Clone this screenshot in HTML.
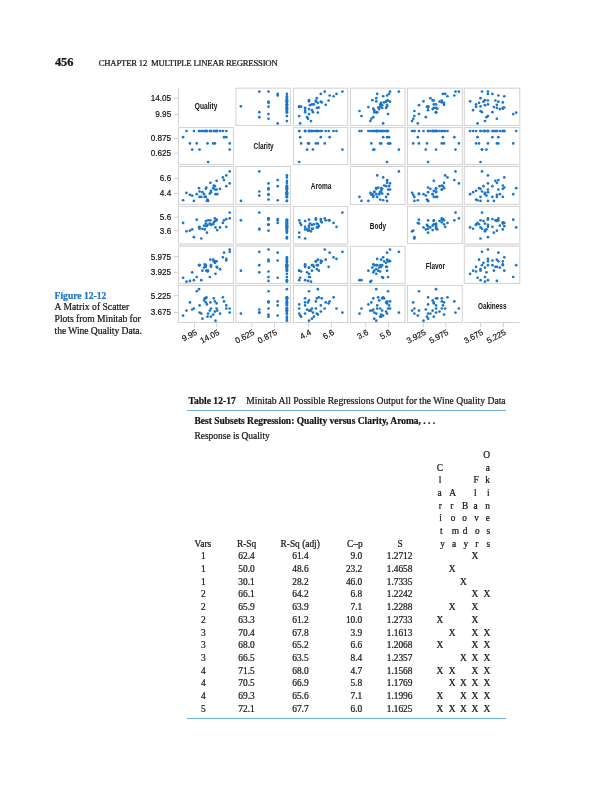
<!DOCTYPE html>
<html lang="en"><head><meta charset="utf-8"><title>Chapter 12 Multiple Linear Regression</title>
<style>
html,body,figure{margin:0;padding:0;background:#fff;}
body{width:609px;height:800px;position:relative;overflow:hidden;font-family:"Liberation Serif",serif;color:#151515;}
.plot{position:absolute;left:0;top:0;}
.t{position:absolute;white-space:pre;line-height:1;-webkit-text-stroke:0.22px currentColor;}
.tc{transform:translateX(-50%);}
.tr{transform:translateX(-100%);}
.rule{position:absolute;height:1px;background:#6fb0e6;}
</style></head><body>
<header>
<div class="t" style="left:54.90px;top:56.02px;font-size:12.4px;font-weight:bold;">456</div>
<div class="t" style="left:98.70px;top:58.91px;font-size:8.7px;letter-spacing:-0.208px;">CHAPTER 12  MULTIPLE LINEAR REGRESSION</div>
</header>
<figure>
<svg class="plot" width="609" height="400" viewBox="0 0 609 400">
<g fill="#fff" stroke="#d2d2d2" stroke-width="1">
<rect x="235.90" y="88.20" width="54.50" height="37.20"/>
<rect x="293.40" y="88.20" width="54.30" height="37.20"/>
<rect x="350.40" y="88.20" width="54.70" height="37.20"/>
<rect x="407.50" y="88.20" width="54.80" height="37.20"/>
<rect x="464.30" y="88.20" width="55.50" height="37.20"/>
<rect x="178.50" y="127.60" width="54.90" height="37.00"/>
<rect x="293.40" y="127.60" width="54.30" height="37.00"/>
<rect x="350.40" y="127.60" width="54.70" height="37.00"/>
<rect x="407.50" y="127.60" width="54.80" height="37.00"/>
<rect x="464.30" y="127.60" width="55.50" height="37.00"/>
<rect x="178.50" y="166.50" width="54.90" height="37.90"/>
<rect x="235.90" y="166.50" width="54.50" height="37.90"/>
<rect x="350.40" y="166.50" width="54.70" height="37.90"/>
<rect x="407.50" y="166.50" width="54.80" height="37.90"/>
<rect x="464.30" y="166.50" width="55.50" height="37.90"/>
<rect x="178.50" y="206.45" width="54.90" height="37.15"/>
<rect x="235.90" y="206.45" width="54.50" height="37.15"/>
<rect x="293.40" y="206.45" width="54.30" height="37.15"/>
<rect x="407.50" y="206.45" width="54.80" height="37.15"/>
<rect x="464.30" y="206.45" width="55.50" height="37.15"/>
<rect x="178.50" y="246.40" width="54.90" height="37.00"/>
<rect x="235.90" y="246.40" width="54.50" height="37.00"/>
<rect x="293.40" y="246.40" width="54.30" height="37.00"/>
<rect x="350.40" y="246.40" width="54.70" height="37.00"/>
<rect x="464.30" y="246.40" width="55.50" height="37.00"/>
<rect x="178.50" y="285.45" width="54.90" height="37.05"/>
<rect x="235.90" y="285.45" width="54.50" height="37.05"/>
<rect x="293.40" y="285.45" width="54.30" height="37.05"/>
<rect x="350.40" y="285.45" width="54.70" height="37.05"/>
<rect x="407.50" y="285.45" width="54.80" height="37.05"/>
</g>
<rect x="178.00" y="243.0" width="55.90" height="3.8" fill="#e5e5e5"/>
<rect x="235.40" y="243.0" width="55.50" height="3.8" fill="#e5e5e5"/>
<rect x="292.90" y="243.0" width="55.30" height="3.8" fill="#e5e5e5"/>
<rect x="463.80" y="243.0" width="56.50" height="3.8" fill="#e5e5e5"/>
<g stroke="#d2d2d2" stroke-width="1" fill="none">
<path d="M178.50 88.20V125.40"/>
<path d="M174.00 98.20H178.50"/>
<path d="M174.00 114.50H178.50"/>
<path d="M174.00 138.40H178.50"/>
<path d="M174.00 153.10H178.50"/>
<path d="M174.00 178.50H178.50"/>
<path d="M174.00 193.30H178.50"/>
<path d="M174.00 217.20H178.50"/>
<path d="M174.00 230.70H178.50"/>
<path d="M174.00 256.65H178.50"/>
<path d="M174.00 272.25H178.50"/>
<path d="M174.00 295.70H178.50"/>
<path d="M174.00 312.50H178.50"/>
<path d="M194.50 322.50V327.10"/>
<path d="M216.80 322.50V327.10"/>
<path d="M251.80 322.50V327.10"/>
<path d="M274.50 322.50V327.10"/>
<path d="M308.60 322.50V327.10"/>
<path d="M331.50 322.50V327.10"/>
<path d="M365.85 322.50V327.10"/>
<path d="M388.50 322.50V327.10"/>
<path d="M423.40 322.50V327.10"/>
<path d="M445.90 322.50V327.10"/>
<path d="M480.60 322.50V327.10"/>
<path d="M503.40 322.50V327.10"/>
<path d="M464.30 322.50H519.80"/>
</g>
<g fill="#1b75c9">
<circle cx="286.90" cy="116.03" r="1.35"/>
<circle cx="286.90" cy="105.17" r="1.35"/>
<circle cx="286.90" cy="107.89" r="1.35"/>
<circle cx="286.90" cy="110.99" r="1.35"/>
<circle cx="286.90" cy="102.46" r="1.35"/>
<circle cx="286.90" cy="104.40" r="1.35"/>
<circle cx="286.90" cy="104.40" r="1.35"/>
<circle cx="286.90" cy="107.50" r="1.35"/>
<circle cx="286.90" cy="101.30" r="1.35"/>
<circle cx="286.90" cy="100.13" r="1.35"/>
<circle cx="286.90" cy="98.19" r="1.35"/>
<circle cx="240.90" cy="106.34" r="1.35"/>
<circle cx="268.50" cy="91.60" r="1.35"/>
<circle cx="259.30" cy="91.60" r="1.35"/>
<circle cx="286.90" cy="93.93" r="1.35"/>
<circle cx="277.70" cy="93.93" r="1.35"/>
<circle cx="286.90" cy="100.52" r="1.35"/>
<circle cx="286.90" cy="100.52" r="1.35"/>
<circle cx="286.90" cy="110.21" r="1.35"/>
<circle cx="277.70" cy="123.40" r="1.35"/>
<circle cx="277.70" cy="95.48" r="1.35"/>
<circle cx="286.90" cy="101.68" r="1.35"/>
<circle cx="259.30" cy="112.15" r="1.35"/>
<circle cx="259.30" cy="117.20" r="1.35"/>
<circle cx="286.90" cy="104.79" r="1.35"/>
<circle cx="286.90" cy="109.05" r="1.35"/>
<circle cx="286.90" cy="108.66" r="1.35"/>
<circle cx="286.90" cy="107.89" r="1.35"/>
<circle cx="286.90" cy="112.15" r="1.35"/>
<circle cx="286.90" cy="121.07" r="1.35"/>
<circle cx="286.90" cy="112.54" r="1.35"/>
<circle cx="268.50" cy="118.75" r="1.35"/>
<circle cx="286.90" cy="107.11" r="1.35"/>
<circle cx="286.90" cy="96.25" r="1.35"/>
<circle cx="268.50" cy="101.68" r="1.35"/>
<circle cx="268.50" cy="106.72" r="1.35"/>
<circle cx="268.50" cy="114.09" r="1.35"/>
<circle cx="268.50" cy="102.85" r="1.35"/>
<circle cx="299.20" cy="116.03" r="1.35"/>
<circle cx="310.00" cy="105.17" r="1.35"/>
<circle cx="305.09" cy="107.89" r="1.35"/>
<circle cx="305.09" cy="110.99" r="1.35"/>
<circle cx="321.78" cy="102.46" r="1.35"/>
<circle cx="311.96" cy="104.40" r="1.35"/>
<circle cx="313.93" cy="104.40" r="1.35"/>
<circle cx="318.84" cy="107.50" r="1.35"/>
<circle cx="309.02" cy="101.30" r="1.35"/>
<circle cx="309.02" cy="100.13" r="1.35"/>
<circle cx="316.87" cy="98.19" r="1.35"/>
<circle cx="299.20" cy="106.34" r="1.35"/>
<circle cx="324.73" cy="91.60" r="1.35"/>
<circle cx="342.40" cy="91.60" r="1.35"/>
<circle cx="336.51" cy="93.93" r="1.35"/>
<circle cx="320.80" cy="93.93" r="1.35"/>
<circle cx="328.65" cy="100.52" r="1.35"/>
<circle cx="315.89" cy="100.52" r="1.35"/>
<circle cx="311.96" cy="110.21" r="1.35"/>
<circle cx="300.18" cy="123.40" r="1.35"/>
<circle cx="329.64" cy="95.48" r="1.35"/>
<circle cx="320.80" cy="101.68" r="1.35"/>
<circle cx="312.95" cy="112.15" r="1.35"/>
<circle cx="307.05" cy="117.20" r="1.35"/>
<circle cx="325.71" cy="104.79" r="1.35"/>
<circle cx="309.02" cy="109.05" r="1.35"/>
<circle cx="305.09" cy="108.66" r="1.35"/>
<circle cx="316.87" cy="107.89" r="1.35"/>
<circle cx="305.09" cy="112.15" r="1.35"/>
<circle cx="310.98" cy="121.07" r="1.35"/>
<circle cx="317.85" cy="112.54" r="1.35"/>
<circle cx="308.04" cy="118.75" r="1.35"/>
<circle cx="299.20" cy="107.11" r="1.35"/>
<circle cx="333.56" cy="96.25" r="1.35"/>
<circle cx="315.89" cy="101.68" r="1.35"/>
<circle cx="301.16" cy="106.72" r="1.35"/>
<circle cx="309.02" cy="114.09" r="1.35"/>
<circle cx="317.85" cy="102.85" r="1.35"/>
<circle cx="361.47" cy="116.03" r="1.35"/>
<circle cx="382.15" cy="105.17" r="1.35"/>
<circle cx="386.09" cy="107.89" r="1.35"/>
<circle cx="359.50" cy="110.99" r="1.35"/>
<circle cx="384.12" cy="102.46" r="1.35"/>
<circle cx="380.19" cy="104.40" r="1.35"/>
<circle cx="381.17" cy="104.40" r="1.35"/>
<circle cx="378.21" cy="107.50" r="1.35"/>
<circle cx="376.25" cy="101.30" r="1.35"/>
<circle cx="372.31" cy="100.13" r="1.35"/>
<circle cx="376.25" cy="98.19" r="1.35"/>
<circle cx="387.08" cy="106.34" r="1.35"/>
<circle cx="390.03" cy="91.60" r="1.35"/>
<circle cx="398.90" cy="91.60" r="1.35"/>
<circle cx="377.23" cy="93.93" r="1.35"/>
<circle cx="389.05" cy="93.93" r="1.35"/>
<circle cx="387.08" cy="100.52" r="1.35"/>
<circle cx="388.06" cy="100.52" r="1.35"/>
<circle cx="374.27" cy="110.21" r="1.35"/>
<circle cx="383.14" cy="123.40" r="1.35"/>
<circle cx="387.08" cy="95.48" r="1.35"/>
<circle cx="386.09" cy="101.68" r="1.35"/>
<circle cx="374.27" cy="112.15" r="1.35"/>
<circle cx="373.29" cy="117.20" r="1.35"/>
<circle cx="387.08" cy="104.79" r="1.35"/>
<circle cx="379.20" cy="109.05" r="1.35"/>
<circle cx="373.29" cy="108.66" r="1.35"/>
<circle cx="382.15" cy="107.89" r="1.35"/>
<circle cx="377.23" cy="112.15" r="1.35"/>
<circle cx="370.33" cy="121.07" r="1.35"/>
<circle cx="376.25" cy="112.54" r="1.35"/>
<circle cx="371.32" cy="118.75" r="1.35"/>
<circle cx="368.37" cy="107.11" r="1.35"/>
<circle cx="383.14" cy="96.25" r="1.35"/>
<circle cx="390.03" cy="101.68" r="1.35"/>
<circle cx="380.19" cy="106.72" r="1.35"/>
<circle cx="388.06" cy="114.09" r="1.35"/>
<circle cx="381.17" cy="102.85" r="1.35"/>
<circle cx="414.38" cy="116.03" r="1.35"/>
<circle cx="418.95" cy="105.17" r="1.35"/>
<circle cx="433.79" cy="107.89" r="1.35"/>
<circle cx="414.38" cy="110.99" r="1.35"/>
<circle cx="441.78" cy="102.46" r="1.35"/>
<circle cx="436.07" cy="104.40" r="1.35"/>
<circle cx="433.79" cy="104.40" r="1.35"/>
<circle cx="428.08" cy="107.50" r="1.35"/>
<circle cx="423.51" cy="101.30" r="1.35"/>
<circle cx="432.65" cy="100.13" r="1.35"/>
<circle cx="430.36" cy="98.19" r="1.35"/>
<circle cx="428.08" cy="106.34" r="1.35"/>
<circle cx="458.90" cy="91.60" r="1.35"/>
<circle cx="455.48" cy="91.60" r="1.35"/>
<circle cx="445.20" cy="93.93" r="1.35"/>
<circle cx="442.92" cy="93.93" r="1.35"/>
<circle cx="433.79" cy="100.52" r="1.35"/>
<circle cx="441.78" cy="100.52" r="1.35"/>
<circle cx="428.08" cy="110.21" r="1.35"/>
<circle cx="417.81" cy="123.40" r="1.35"/>
<circle cx="454.33" cy="95.48" r="1.35"/>
<circle cx="439.50" cy="101.68" r="1.35"/>
<circle cx="436.07" cy="112.15" r="1.35"/>
<circle cx="425.80" cy="117.20" r="1.35"/>
<circle cx="444.06" cy="104.79" r="1.35"/>
<circle cx="432.65" cy="109.05" r="1.35"/>
<circle cx="437.21" cy="108.66" r="1.35"/>
<circle cx="436.07" cy="107.89" r="1.35"/>
<circle cx="436.07" cy="112.15" r="1.35"/>
<circle cx="412.10" cy="121.07" r="1.35"/>
<circle cx="436.07" cy="112.54" r="1.35"/>
<circle cx="413.24" cy="118.75" r="1.35"/>
<circle cx="428.08" cy="107.11" r="1.35"/>
<circle cx="447.49" cy="96.25" r="1.35"/>
<circle cx="441.78" cy="101.68" r="1.35"/>
<circle cx="426.94" cy="106.72" r="1.35"/>
<circle cx="418.95" cy="114.09" r="1.35"/>
<circle cx="444.06" cy="102.85" r="1.35"/>
<circle cx="487.95" cy="116.03" r="1.35"/>
<circle cx="484.97" cy="105.17" r="1.35"/>
<circle cx="496.87" cy="107.89" r="1.35"/>
<circle cx="480.51" cy="110.99" r="1.35"/>
<circle cx="502.82" cy="102.46" r="1.35"/>
<circle cx="487.95" cy="104.40" r="1.35"/>
<circle cx="476.05" cy="104.40" r="1.35"/>
<circle cx="504.30" cy="107.50" r="1.35"/>
<circle cx="470.10" cy="101.30" r="1.35"/>
<circle cx="484.97" cy="100.13" r="1.35"/>
<circle cx="480.51" cy="98.19" r="1.35"/>
<circle cx="480.51" cy="106.34" r="1.35"/>
<circle cx="487.95" cy="91.60" r="1.35"/>
<circle cx="482.00" cy="91.60" r="1.35"/>
<circle cx="487.95" cy="93.93" r="1.35"/>
<circle cx="492.41" cy="93.93" r="1.35"/>
<circle cx="495.38" cy="100.52" r="1.35"/>
<circle cx="487.95" cy="100.52" r="1.35"/>
<circle cx="473.07" cy="110.21" r="1.35"/>
<circle cx="477.54" cy="123.40" r="1.35"/>
<circle cx="498.35" cy="95.48" r="1.35"/>
<circle cx="483.48" cy="101.68" r="1.35"/>
<circle cx="482.00" cy="112.15" r="1.35"/>
<circle cx="486.46" cy="117.20" r="1.35"/>
<circle cx="496.87" cy="104.79" r="1.35"/>
<circle cx="499.84" cy="109.05" r="1.35"/>
<circle cx="502.82" cy="108.66" r="1.35"/>
<circle cx="502.82" cy="107.89" r="1.35"/>
<circle cx="492.41" cy="112.15" r="1.35"/>
<circle cx="484.97" cy="121.07" r="1.35"/>
<circle cx="516.20" cy="112.54" r="1.35"/>
<circle cx="496.87" cy="118.75" r="1.35"/>
<circle cx="493.89" cy="107.11" r="1.35"/>
<circle cx="504.30" cy="96.25" r="1.35"/>
<circle cx="498.35" cy="101.68" r="1.35"/>
<circle cx="476.05" cy="106.72" r="1.35"/>
<circle cx="513.23" cy="114.09" r="1.35"/>
<circle cx="479.02" cy="102.85" r="1.35"/>
<circle cx="193.90" cy="131.00" r="1.35"/>
<circle cx="209.81" cy="131.00" r="1.35"/>
<circle cx="205.83" cy="131.00" r="1.35"/>
<circle cx="201.29" cy="131.00" r="1.35"/>
<circle cx="213.79" cy="131.00" r="1.35"/>
<circle cx="210.95" cy="131.00" r="1.35"/>
<circle cx="210.95" cy="131.00" r="1.35"/>
<circle cx="206.40" cy="131.00" r="1.35"/>
<circle cx="215.49" cy="131.00" r="1.35"/>
<circle cx="217.20" cy="131.00" r="1.35"/>
<circle cx="220.04" cy="131.00" r="1.35"/>
<circle cx="208.10" cy="162.00" r="1.35"/>
<circle cx="229.70" cy="143.40" r="1.35"/>
<circle cx="229.70" cy="149.60" r="1.35"/>
<circle cx="226.29" cy="131.00" r="1.35"/>
<circle cx="226.29" cy="137.20" r="1.35"/>
<circle cx="216.63" cy="131.00" r="1.35"/>
<circle cx="216.63" cy="131.00" r="1.35"/>
<circle cx="202.42" cy="131.00" r="1.35"/>
<circle cx="183.10" cy="137.20" r="1.35"/>
<circle cx="224.02" cy="137.20" r="1.35"/>
<circle cx="214.92" cy="131.00" r="1.35"/>
<circle cx="199.58" cy="149.60" r="1.35"/>
<circle cx="192.19" cy="149.60" r="1.35"/>
<circle cx="210.38" cy="131.00" r="1.35"/>
<circle cx="204.13" cy="131.00" r="1.35"/>
<circle cx="204.70" cy="131.00" r="1.35"/>
<circle cx="205.83" cy="131.00" r="1.35"/>
<circle cx="199.58" cy="131.00" r="1.35"/>
<circle cx="186.51" cy="131.00" r="1.35"/>
<circle cx="199.01" cy="131.00" r="1.35"/>
<circle cx="189.92" cy="143.40" r="1.35"/>
<circle cx="206.97" cy="131.00" r="1.35"/>
<circle cx="222.88" cy="131.00" r="1.35"/>
<circle cx="214.92" cy="143.40" r="1.35"/>
<circle cx="207.54" cy="143.40" r="1.35"/>
<circle cx="196.74" cy="143.40" r="1.35"/>
<circle cx="213.22" cy="143.40" r="1.35"/>
<circle cx="299.20" cy="131.00" r="1.35"/>
<circle cx="310.00" cy="131.00" r="1.35"/>
<circle cx="305.09" cy="131.00" r="1.35"/>
<circle cx="305.09" cy="131.00" r="1.35"/>
<circle cx="321.78" cy="131.00" r="1.35"/>
<circle cx="311.96" cy="131.00" r="1.35"/>
<circle cx="313.93" cy="131.00" r="1.35"/>
<circle cx="318.84" cy="131.00" r="1.35"/>
<circle cx="309.02" cy="131.00" r="1.35"/>
<circle cx="309.02" cy="131.00" r="1.35"/>
<circle cx="316.87" cy="131.00" r="1.35"/>
<circle cx="299.20" cy="162.00" r="1.35"/>
<circle cx="324.73" cy="143.40" r="1.35"/>
<circle cx="342.40" cy="149.60" r="1.35"/>
<circle cx="336.51" cy="131.00" r="1.35"/>
<circle cx="320.80" cy="137.20" r="1.35"/>
<circle cx="328.65" cy="131.00" r="1.35"/>
<circle cx="315.89" cy="131.00" r="1.35"/>
<circle cx="311.96" cy="131.00" r="1.35"/>
<circle cx="300.18" cy="137.20" r="1.35"/>
<circle cx="329.64" cy="137.20" r="1.35"/>
<circle cx="320.80" cy="131.00" r="1.35"/>
<circle cx="312.95" cy="149.60" r="1.35"/>
<circle cx="307.05" cy="149.60" r="1.35"/>
<circle cx="325.71" cy="131.00" r="1.35"/>
<circle cx="309.02" cy="131.00" r="1.35"/>
<circle cx="305.09" cy="131.00" r="1.35"/>
<circle cx="316.87" cy="131.00" r="1.35"/>
<circle cx="305.09" cy="131.00" r="1.35"/>
<circle cx="310.98" cy="131.00" r="1.35"/>
<circle cx="317.85" cy="131.00" r="1.35"/>
<circle cx="308.04" cy="143.40" r="1.35"/>
<circle cx="299.20" cy="131.00" r="1.35"/>
<circle cx="333.56" cy="131.00" r="1.35"/>
<circle cx="315.89" cy="143.40" r="1.35"/>
<circle cx="301.16" cy="143.40" r="1.35"/>
<circle cx="309.02" cy="143.40" r="1.35"/>
<circle cx="317.85" cy="143.40" r="1.35"/>
<circle cx="361.47" cy="131.00" r="1.35"/>
<circle cx="382.15" cy="131.00" r="1.35"/>
<circle cx="386.09" cy="131.00" r="1.35"/>
<circle cx="359.50" cy="131.00" r="1.35"/>
<circle cx="384.12" cy="131.00" r="1.35"/>
<circle cx="380.19" cy="131.00" r="1.35"/>
<circle cx="381.17" cy="131.00" r="1.35"/>
<circle cx="378.21" cy="131.00" r="1.35"/>
<circle cx="376.25" cy="131.00" r="1.35"/>
<circle cx="372.31" cy="131.00" r="1.35"/>
<circle cx="376.25" cy="131.00" r="1.35"/>
<circle cx="387.08" cy="162.00" r="1.35"/>
<circle cx="390.03" cy="143.40" r="1.35"/>
<circle cx="398.90" cy="149.60" r="1.35"/>
<circle cx="377.23" cy="131.00" r="1.35"/>
<circle cx="389.05" cy="137.20" r="1.35"/>
<circle cx="387.08" cy="131.00" r="1.35"/>
<circle cx="388.06" cy="131.00" r="1.35"/>
<circle cx="374.27" cy="131.00" r="1.35"/>
<circle cx="383.14" cy="137.20" r="1.35"/>
<circle cx="387.08" cy="137.20" r="1.35"/>
<circle cx="386.09" cy="131.00" r="1.35"/>
<circle cx="374.27" cy="149.60" r="1.35"/>
<circle cx="373.29" cy="149.60" r="1.35"/>
<circle cx="387.08" cy="131.00" r="1.35"/>
<circle cx="379.20" cy="131.00" r="1.35"/>
<circle cx="373.29" cy="131.00" r="1.35"/>
<circle cx="382.15" cy="131.00" r="1.35"/>
<circle cx="377.23" cy="131.00" r="1.35"/>
<circle cx="370.33" cy="131.00" r="1.35"/>
<circle cx="376.25" cy="131.00" r="1.35"/>
<circle cx="371.32" cy="143.40" r="1.35"/>
<circle cx="368.37" cy="131.00" r="1.35"/>
<circle cx="383.14" cy="131.00" r="1.35"/>
<circle cx="390.03" cy="143.40" r="1.35"/>
<circle cx="380.19" cy="143.40" r="1.35"/>
<circle cx="388.06" cy="143.40" r="1.35"/>
<circle cx="381.17" cy="143.40" r="1.35"/>
<circle cx="414.38" cy="131.00" r="1.35"/>
<circle cx="418.95" cy="131.00" r="1.35"/>
<circle cx="433.79" cy="131.00" r="1.35"/>
<circle cx="414.38" cy="131.00" r="1.35"/>
<circle cx="441.78" cy="131.00" r="1.35"/>
<circle cx="436.07" cy="131.00" r="1.35"/>
<circle cx="433.79" cy="131.00" r="1.35"/>
<circle cx="428.08" cy="131.00" r="1.35"/>
<circle cx="423.51" cy="131.00" r="1.35"/>
<circle cx="432.65" cy="131.00" r="1.35"/>
<circle cx="430.36" cy="131.00" r="1.35"/>
<circle cx="428.08" cy="162.00" r="1.35"/>
<circle cx="458.90" cy="143.40" r="1.35"/>
<circle cx="455.48" cy="149.60" r="1.35"/>
<circle cx="445.20" cy="131.00" r="1.35"/>
<circle cx="442.92" cy="137.20" r="1.35"/>
<circle cx="433.79" cy="131.00" r="1.35"/>
<circle cx="441.78" cy="131.00" r="1.35"/>
<circle cx="428.08" cy="131.00" r="1.35"/>
<circle cx="417.81" cy="137.20" r="1.35"/>
<circle cx="454.33" cy="137.20" r="1.35"/>
<circle cx="439.50" cy="131.00" r="1.35"/>
<circle cx="436.07" cy="149.60" r="1.35"/>
<circle cx="425.80" cy="149.60" r="1.35"/>
<circle cx="444.06" cy="131.00" r="1.35"/>
<circle cx="432.65" cy="131.00" r="1.35"/>
<circle cx="437.21" cy="131.00" r="1.35"/>
<circle cx="436.07" cy="131.00" r="1.35"/>
<circle cx="436.07" cy="131.00" r="1.35"/>
<circle cx="412.10" cy="131.00" r="1.35"/>
<circle cx="436.07" cy="131.00" r="1.35"/>
<circle cx="413.24" cy="143.40" r="1.35"/>
<circle cx="428.08" cy="131.00" r="1.35"/>
<circle cx="447.49" cy="131.00" r="1.35"/>
<circle cx="441.78" cy="143.40" r="1.35"/>
<circle cx="426.94" cy="143.40" r="1.35"/>
<circle cx="418.95" cy="143.40" r="1.35"/>
<circle cx="444.06" cy="143.40" r="1.35"/>
<circle cx="487.95" cy="131.00" r="1.35"/>
<circle cx="484.97" cy="131.00" r="1.35"/>
<circle cx="496.87" cy="131.00" r="1.35"/>
<circle cx="480.51" cy="131.00" r="1.35"/>
<circle cx="502.82" cy="131.00" r="1.35"/>
<circle cx="487.95" cy="131.00" r="1.35"/>
<circle cx="476.05" cy="131.00" r="1.35"/>
<circle cx="504.30" cy="131.00" r="1.35"/>
<circle cx="470.10" cy="131.00" r="1.35"/>
<circle cx="484.97" cy="131.00" r="1.35"/>
<circle cx="480.51" cy="131.00" r="1.35"/>
<circle cx="480.51" cy="162.00" r="1.35"/>
<circle cx="487.95" cy="143.40" r="1.35"/>
<circle cx="482.00" cy="149.60" r="1.35"/>
<circle cx="487.95" cy="131.00" r="1.35"/>
<circle cx="492.41" cy="137.20" r="1.35"/>
<circle cx="495.38" cy="131.00" r="1.35"/>
<circle cx="487.95" cy="131.00" r="1.35"/>
<circle cx="473.07" cy="131.00" r="1.35"/>
<circle cx="477.54" cy="137.20" r="1.35"/>
<circle cx="498.35" cy="137.20" r="1.35"/>
<circle cx="483.48" cy="131.00" r="1.35"/>
<circle cx="482.00" cy="149.60" r="1.35"/>
<circle cx="486.46" cy="149.60" r="1.35"/>
<circle cx="496.87" cy="131.00" r="1.35"/>
<circle cx="499.84" cy="131.00" r="1.35"/>
<circle cx="502.82" cy="131.00" r="1.35"/>
<circle cx="502.82" cy="131.00" r="1.35"/>
<circle cx="492.41" cy="131.00" r="1.35"/>
<circle cx="484.97" cy="131.00" r="1.35"/>
<circle cx="516.20" cy="131.00" r="1.35"/>
<circle cx="496.87" cy="143.40" r="1.35"/>
<circle cx="493.89" cy="131.00" r="1.35"/>
<circle cx="504.30" cy="131.00" r="1.35"/>
<circle cx="498.35" cy="143.40" r="1.35"/>
<circle cx="476.05" cy="143.40" r="1.35"/>
<circle cx="513.23" cy="143.40" r="1.35"/>
<circle cx="479.02" cy="143.40" r="1.35"/>
<circle cx="193.90" cy="200.90" r="1.35"/>
<circle cx="209.81" cy="193.53" r="1.35"/>
<circle cx="205.83" cy="196.88" r="1.35"/>
<circle cx="201.29" cy="196.88" r="1.35"/>
<circle cx="213.79" cy="185.48" r="1.35"/>
<circle cx="210.95" cy="192.18" r="1.35"/>
<circle cx="210.95" cy="190.84" r="1.35"/>
<circle cx="206.40" cy="187.49" r="1.35"/>
<circle cx="215.49" cy="194.20" r="1.35"/>
<circle cx="217.20" cy="194.20" r="1.35"/>
<circle cx="220.04" cy="188.83" r="1.35"/>
<circle cx="208.10" cy="200.90" r="1.35"/>
<circle cx="229.70" cy="183.47" r="1.35"/>
<circle cx="229.70" cy="171.40" r="1.35"/>
<circle cx="226.29" cy="175.42" r="1.35"/>
<circle cx="226.29" cy="186.15" r="1.35"/>
<circle cx="216.63" cy="180.79" r="1.35"/>
<circle cx="216.63" cy="189.50" r="1.35"/>
<circle cx="202.42" cy="192.18" r="1.35"/>
<circle cx="183.10" cy="200.23" r="1.35"/>
<circle cx="224.02" cy="180.12" r="1.35"/>
<circle cx="214.92" cy="186.15" r="1.35"/>
<circle cx="199.58" cy="191.51" r="1.35"/>
<circle cx="192.19" cy="195.54" r="1.35"/>
<circle cx="210.38" cy="182.80" r="1.35"/>
<circle cx="204.13" cy="194.20" r="1.35"/>
<circle cx="204.70" cy="196.88" r="1.35"/>
<circle cx="205.83" cy="188.83" r="1.35"/>
<circle cx="199.58" cy="196.88" r="1.35"/>
<circle cx="186.51" cy="192.85" r="1.35"/>
<circle cx="199.01" cy="188.16" r="1.35"/>
<circle cx="189.92" cy="194.87" r="1.35"/>
<circle cx="206.97" cy="200.90" r="1.35"/>
<circle cx="222.88" cy="177.43" r="1.35"/>
<circle cx="214.92" cy="189.50" r="1.35"/>
<circle cx="207.54" cy="199.56" r="1.35"/>
<circle cx="196.74" cy="194.20" r="1.35"/>
<circle cx="213.22" cy="188.16" r="1.35"/>
<circle cx="286.90" cy="200.90" r="1.35"/>
<circle cx="286.90" cy="193.53" r="1.35"/>
<circle cx="286.90" cy="196.88" r="1.35"/>
<circle cx="286.90" cy="196.88" r="1.35"/>
<circle cx="286.90" cy="185.48" r="1.35"/>
<circle cx="286.90" cy="192.18" r="1.35"/>
<circle cx="286.90" cy="190.84" r="1.35"/>
<circle cx="286.90" cy="187.49" r="1.35"/>
<circle cx="286.90" cy="194.20" r="1.35"/>
<circle cx="286.90" cy="194.20" r="1.35"/>
<circle cx="286.90" cy="188.83" r="1.35"/>
<circle cx="240.90" cy="200.90" r="1.35"/>
<circle cx="268.50" cy="183.47" r="1.35"/>
<circle cx="259.30" cy="171.40" r="1.35"/>
<circle cx="286.90" cy="175.42" r="1.35"/>
<circle cx="277.70" cy="186.15" r="1.35"/>
<circle cx="286.90" cy="180.79" r="1.35"/>
<circle cx="286.90" cy="189.50" r="1.35"/>
<circle cx="286.90" cy="192.18" r="1.35"/>
<circle cx="277.70" cy="200.23" r="1.35"/>
<circle cx="277.70" cy="180.12" r="1.35"/>
<circle cx="286.90" cy="186.15" r="1.35"/>
<circle cx="259.30" cy="191.51" r="1.35"/>
<circle cx="259.30" cy="195.54" r="1.35"/>
<circle cx="286.90" cy="182.80" r="1.35"/>
<circle cx="286.90" cy="194.20" r="1.35"/>
<circle cx="286.90" cy="196.88" r="1.35"/>
<circle cx="286.90" cy="188.83" r="1.35"/>
<circle cx="286.90" cy="196.88" r="1.35"/>
<circle cx="286.90" cy="192.85" r="1.35"/>
<circle cx="286.90" cy="188.16" r="1.35"/>
<circle cx="268.50" cy="194.87" r="1.35"/>
<circle cx="286.90" cy="200.90" r="1.35"/>
<circle cx="286.90" cy="177.43" r="1.35"/>
<circle cx="268.50" cy="189.50" r="1.35"/>
<circle cx="268.50" cy="199.56" r="1.35"/>
<circle cx="268.50" cy="194.20" r="1.35"/>
<circle cx="268.50" cy="188.16" r="1.35"/>
<circle cx="361.47" cy="200.90" r="1.35"/>
<circle cx="382.15" cy="193.53" r="1.35"/>
<circle cx="386.09" cy="196.88" r="1.35"/>
<circle cx="359.50" cy="196.88" r="1.35"/>
<circle cx="384.12" cy="185.48" r="1.35"/>
<circle cx="380.19" cy="192.18" r="1.35"/>
<circle cx="381.17" cy="190.84" r="1.35"/>
<circle cx="378.21" cy="187.49" r="1.35"/>
<circle cx="376.25" cy="194.20" r="1.35"/>
<circle cx="372.31" cy="194.20" r="1.35"/>
<circle cx="376.25" cy="188.83" r="1.35"/>
<circle cx="387.08" cy="200.90" r="1.35"/>
<circle cx="390.03" cy="183.47" r="1.35"/>
<circle cx="398.90" cy="171.40" r="1.35"/>
<circle cx="377.23" cy="175.42" r="1.35"/>
<circle cx="389.05" cy="186.15" r="1.35"/>
<circle cx="387.08" cy="180.79" r="1.35"/>
<circle cx="388.06" cy="189.50" r="1.35"/>
<circle cx="374.27" cy="192.18" r="1.35"/>
<circle cx="383.14" cy="200.23" r="1.35"/>
<circle cx="387.08" cy="180.12" r="1.35"/>
<circle cx="386.09" cy="186.15" r="1.35"/>
<circle cx="374.27" cy="191.51" r="1.35"/>
<circle cx="373.29" cy="195.54" r="1.35"/>
<circle cx="387.08" cy="182.80" r="1.35"/>
<circle cx="379.20" cy="194.20" r="1.35"/>
<circle cx="373.29" cy="196.88" r="1.35"/>
<circle cx="382.15" cy="188.83" r="1.35"/>
<circle cx="377.23" cy="196.88" r="1.35"/>
<circle cx="370.33" cy="192.85" r="1.35"/>
<circle cx="376.25" cy="188.16" r="1.35"/>
<circle cx="371.32" cy="194.87" r="1.35"/>
<circle cx="368.37" cy="200.90" r="1.35"/>
<circle cx="383.14" cy="177.43" r="1.35"/>
<circle cx="390.03" cy="189.50" r="1.35"/>
<circle cx="380.19" cy="199.56" r="1.35"/>
<circle cx="388.06" cy="194.20" r="1.35"/>
<circle cx="381.17" cy="188.16" r="1.35"/>
<circle cx="414.38" cy="200.90" r="1.35"/>
<circle cx="418.95" cy="193.53" r="1.35"/>
<circle cx="433.79" cy="196.88" r="1.35"/>
<circle cx="414.38" cy="196.88" r="1.35"/>
<circle cx="441.78" cy="185.48" r="1.35"/>
<circle cx="436.07" cy="192.18" r="1.35"/>
<circle cx="433.79" cy="190.84" r="1.35"/>
<circle cx="428.08" cy="187.49" r="1.35"/>
<circle cx="423.51" cy="194.20" r="1.35"/>
<circle cx="432.65" cy="194.20" r="1.35"/>
<circle cx="430.36" cy="188.83" r="1.35"/>
<circle cx="428.08" cy="200.90" r="1.35"/>
<circle cx="458.90" cy="183.47" r="1.35"/>
<circle cx="455.48" cy="171.40" r="1.35"/>
<circle cx="445.20" cy="175.42" r="1.35"/>
<circle cx="442.92" cy="186.15" r="1.35"/>
<circle cx="433.79" cy="180.79" r="1.35"/>
<circle cx="441.78" cy="189.50" r="1.35"/>
<circle cx="428.08" cy="192.18" r="1.35"/>
<circle cx="417.81" cy="200.23" r="1.35"/>
<circle cx="454.33" cy="180.12" r="1.35"/>
<circle cx="439.50" cy="186.15" r="1.35"/>
<circle cx="436.07" cy="191.51" r="1.35"/>
<circle cx="425.80" cy="195.54" r="1.35"/>
<circle cx="444.06" cy="182.80" r="1.35"/>
<circle cx="432.65" cy="194.20" r="1.35"/>
<circle cx="437.21" cy="196.88" r="1.35"/>
<circle cx="436.07" cy="188.83" r="1.35"/>
<circle cx="436.07" cy="196.88" r="1.35"/>
<circle cx="412.10" cy="192.85" r="1.35"/>
<circle cx="436.07" cy="188.16" r="1.35"/>
<circle cx="413.24" cy="194.87" r="1.35"/>
<circle cx="428.08" cy="200.90" r="1.35"/>
<circle cx="447.49" cy="177.43" r="1.35"/>
<circle cx="441.78" cy="189.50" r="1.35"/>
<circle cx="426.94" cy="199.56" r="1.35"/>
<circle cx="418.95" cy="194.20" r="1.35"/>
<circle cx="444.06" cy="188.16" r="1.35"/>
<circle cx="487.95" cy="200.90" r="1.35"/>
<circle cx="484.97" cy="193.53" r="1.35"/>
<circle cx="496.87" cy="196.88" r="1.35"/>
<circle cx="480.51" cy="196.88" r="1.35"/>
<circle cx="502.82" cy="185.48" r="1.35"/>
<circle cx="487.95" cy="192.18" r="1.35"/>
<circle cx="476.05" cy="190.84" r="1.35"/>
<circle cx="504.30" cy="187.49" r="1.35"/>
<circle cx="470.10" cy="194.20" r="1.35"/>
<circle cx="484.97" cy="194.20" r="1.35"/>
<circle cx="480.51" cy="188.83" r="1.35"/>
<circle cx="480.51" cy="200.90" r="1.35"/>
<circle cx="487.95" cy="183.47" r="1.35"/>
<circle cx="482.00" cy="171.40" r="1.35"/>
<circle cx="487.95" cy="175.42" r="1.35"/>
<circle cx="492.41" cy="186.15" r="1.35"/>
<circle cx="495.38" cy="180.79" r="1.35"/>
<circle cx="487.95" cy="189.50" r="1.35"/>
<circle cx="473.07" cy="192.18" r="1.35"/>
<circle cx="477.54" cy="200.23" r="1.35"/>
<circle cx="498.35" cy="180.12" r="1.35"/>
<circle cx="483.48" cy="186.15" r="1.35"/>
<circle cx="482.00" cy="191.51" r="1.35"/>
<circle cx="486.46" cy="195.54" r="1.35"/>
<circle cx="496.87" cy="182.80" r="1.35"/>
<circle cx="499.84" cy="194.20" r="1.35"/>
<circle cx="502.82" cy="196.88" r="1.35"/>
<circle cx="502.82" cy="188.83" r="1.35"/>
<circle cx="492.41" cy="196.88" r="1.35"/>
<circle cx="484.97" cy="192.85" r="1.35"/>
<circle cx="516.20" cy="188.16" r="1.35"/>
<circle cx="496.87" cy="194.87" r="1.35"/>
<circle cx="493.89" cy="200.90" r="1.35"/>
<circle cx="504.30" cy="177.43" r="1.35"/>
<circle cx="498.35" cy="189.50" r="1.35"/>
<circle cx="476.05" cy="199.56" r="1.35"/>
<circle cx="513.23" cy="194.20" r="1.35"/>
<circle cx="479.02" cy="188.16" r="1.35"/>
<circle cx="193.90" cy="237.20" r="1.35"/>
<circle cx="209.81" cy="223.58" r="1.35"/>
<circle cx="205.83" cy="220.98" r="1.35"/>
<circle cx="201.29" cy="238.50" r="1.35"/>
<circle cx="213.79" cy="222.28" r="1.35"/>
<circle cx="210.95" cy="224.88" r="1.35"/>
<circle cx="210.95" cy="224.23" r="1.35"/>
<circle cx="206.40" cy="226.17" r="1.35"/>
<circle cx="215.49" cy="227.47" r="1.35"/>
<circle cx="217.20" cy="230.07" r="1.35"/>
<circle cx="220.04" cy="227.47" r="1.35"/>
<circle cx="208.10" cy="220.34" r="1.35"/>
<circle cx="229.70" cy="218.39" r="1.35"/>
<circle cx="229.70" cy="212.55" r="1.35"/>
<circle cx="226.29" cy="226.82" r="1.35"/>
<circle cx="226.29" cy="219.04" r="1.35"/>
<circle cx="216.63" cy="220.34" r="1.35"/>
<circle cx="216.63" cy="219.69" r="1.35"/>
<circle cx="202.42" cy="228.77" r="1.35"/>
<circle cx="183.10" cy="222.93" r="1.35"/>
<circle cx="224.02" cy="220.34" r="1.35"/>
<circle cx="214.92" cy="220.98" r="1.35"/>
<circle cx="199.58" cy="228.77" r="1.35"/>
<circle cx="192.19" cy="229.42" r="1.35"/>
<circle cx="210.38" cy="220.34" r="1.35"/>
<circle cx="204.13" cy="225.53" r="1.35"/>
<circle cx="204.70" cy="229.42" r="1.35"/>
<circle cx="205.83" cy="223.58" r="1.35"/>
<circle cx="199.58" cy="226.82" r="1.35"/>
<circle cx="186.51" cy="231.36" r="1.35"/>
<circle cx="199.01" cy="227.47" r="1.35"/>
<circle cx="189.92" cy="230.72" r="1.35"/>
<circle cx="206.97" cy="232.66" r="1.35"/>
<circle cx="222.88" cy="222.93" r="1.35"/>
<circle cx="214.92" cy="218.39" r="1.35"/>
<circle cx="207.54" cy="224.88" r="1.35"/>
<circle cx="196.74" cy="219.69" r="1.35"/>
<circle cx="213.22" cy="224.23" r="1.35"/>
<circle cx="286.90" cy="237.20" r="1.35"/>
<circle cx="286.90" cy="223.58" r="1.35"/>
<circle cx="286.90" cy="220.98" r="1.35"/>
<circle cx="286.90" cy="238.50" r="1.35"/>
<circle cx="286.90" cy="222.28" r="1.35"/>
<circle cx="286.90" cy="224.88" r="1.35"/>
<circle cx="286.90" cy="224.23" r="1.35"/>
<circle cx="286.90" cy="226.17" r="1.35"/>
<circle cx="286.90" cy="227.47" r="1.35"/>
<circle cx="286.90" cy="230.07" r="1.35"/>
<circle cx="286.90" cy="227.47" r="1.35"/>
<circle cx="240.90" cy="220.34" r="1.35"/>
<circle cx="268.50" cy="218.39" r="1.35"/>
<circle cx="259.30" cy="212.55" r="1.35"/>
<circle cx="286.90" cy="226.82" r="1.35"/>
<circle cx="277.70" cy="219.04" r="1.35"/>
<circle cx="286.90" cy="220.34" r="1.35"/>
<circle cx="286.90" cy="219.69" r="1.35"/>
<circle cx="286.90" cy="228.77" r="1.35"/>
<circle cx="277.70" cy="222.93" r="1.35"/>
<circle cx="277.70" cy="220.34" r="1.35"/>
<circle cx="286.90" cy="220.98" r="1.35"/>
<circle cx="259.30" cy="228.77" r="1.35"/>
<circle cx="259.30" cy="229.42" r="1.35"/>
<circle cx="286.90" cy="220.34" r="1.35"/>
<circle cx="286.90" cy="225.53" r="1.35"/>
<circle cx="286.90" cy="229.42" r="1.35"/>
<circle cx="286.90" cy="223.58" r="1.35"/>
<circle cx="286.90" cy="226.82" r="1.35"/>
<circle cx="286.90" cy="231.36" r="1.35"/>
<circle cx="286.90" cy="227.47" r="1.35"/>
<circle cx="268.50" cy="230.72" r="1.35"/>
<circle cx="286.90" cy="232.66" r="1.35"/>
<circle cx="286.90" cy="222.93" r="1.35"/>
<circle cx="268.50" cy="218.39" r="1.35"/>
<circle cx="268.50" cy="224.88" r="1.35"/>
<circle cx="268.50" cy="219.69" r="1.35"/>
<circle cx="268.50" cy="224.23" r="1.35"/>
<circle cx="299.20" cy="237.20" r="1.35"/>
<circle cx="310.00" cy="223.58" r="1.35"/>
<circle cx="305.09" cy="220.98" r="1.35"/>
<circle cx="305.09" cy="238.50" r="1.35"/>
<circle cx="321.78" cy="222.28" r="1.35"/>
<circle cx="311.96" cy="224.88" r="1.35"/>
<circle cx="313.93" cy="224.23" r="1.35"/>
<circle cx="318.84" cy="226.17" r="1.35"/>
<circle cx="309.02" cy="227.47" r="1.35"/>
<circle cx="309.02" cy="230.07" r="1.35"/>
<circle cx="316.87" cy="227.47" r="1.35"/>
<circle cx="299.20" cy="220.34" r="1.35"/>
<circle cx="324.73" cy="218.39" r="1.35"/>
<circle cx="342.40" cy="212.55" r="1.35"/>
<circle cx="336.51" cy="226.82" r="1.35"/>
<circle cx="320.80" cy="219.04" r="1.35"/>
<circle cx="328.65" cy="220.34" r="1.35"/>
<circle cx="315.89" cy="219.69" r="1.35"/>
<circle cx="311.96" cy="228.77" r="1.35"/>
<circle cx="300.18" cy="222.93" r="1.35"/>
<circle cx="329.64" cy="220.34" r="1.35"/>
<circle cx="320.80" cy="220.98" r="1.35"/>
<circle cx="312.95" cy="228.77" r="1.35"/>
<circle cx="307.05" cy="229.42" r="1.35"/>
<circle cx="325.71" cy="220.34" r="1.35"/>
<circle cx="309.02" cy="225.53" r="1.35"/>
<circle cx="305.09" cy="229.42" r="1.35"/>
<circle cx="316.87" cy="223.58" r="1.35"/>
<circle cx="305.09" cy="226.82" r="1.35"/>
<circle cx="310.98" cy="231.36" r="1.35"/>
<circle cx="317.85" cy="227.47" r="1.35"/>
<circle cx="308.04" cy="230.72" r="1.35"/>
<circle cx="299.20" cy="232.66" r="1.35"/>
<circle cx="333.56" cy="222.93" r="1.35"/>
<circle cx="315.89" cy="218.39" r="1.35"/>
<circle cx="301.16" cy="224.88" r="1.35"/>
<circle cx="309.02" cy="219.69" r="1.35"/>
<circle cx="317.85" cy="224.23" r="1.35"/>
<circle cx="414.38" cy="237.20" r="1.35"/>
<circle cx="418.95" cy="223.58" r="1.35"/>
<circle cx="433.79" cy="220.98" r="1.35"/>
<circle cx="414.38" cy="238.50" r="1.35"/>
<circle cx="441.78" cy="222.28" r="1.35"/>
<circle cx="436.07" cy="224.88" r="1.35"/>
<circle cx="433.79" cy="224.23" r="1.35"/>
<circle cx="428.08" cy="226.17" r="1.35"/>
<circle cx="423.51" cy="227.47" r="1.35"/>
<circle cx="432.65" cy="230.07" r="1.35"/>
<circle cx="430.36" cy="227.47" r="1.35"/>
<circle cx="428.08" cy="220.34" r="1.35"/>
<circle cx="458.90" cy="218.39" r="1.35"/>
<circle cx="455.48" cy="212.55" r="1.35"/>
<circle cx="445.20" cy="226.82" r="1.35"/>
<circle cx="442.92" cy="219.04" r="1.35"/>
<circle cx="433.79" cy="220.34" r="1.35"/>
<circle cx="441.78" cy="219.69" r="1.35"/>
<circle cx="428.08" cy="228.77" r="1.35"/>
<circle cx="417.81" cy="222.93" r="1.35"/>
<circle cx="454.33" cy="220.34" r="1.35"/>
<circle cx="439.50" cy="220.98" r="1.35"/>
<circle cx="436.07" cy="228.77" r="1.35"/>
<circle cx="425.80" cy="229.42" r="1.35"/>
<circle cx="444.06" cy="220.34" r="1.35"/>
<circle cx="432.65" cy="225.53" r="1.35"/>
<circle cx="437.21" cy="229.42" r="1.35"/>
<circle cx="436.07" cy="223.58" r="1.35"/>
<circle cx="436.07" cy="226.82" r="1.35"/>
<circle cx="412.10" cy="231.36" r="1.35"/>
<circle cx="436.07" cy="227.47" r="1.35"/>
<circle cx="413.24" cy="230.72" r="1.35"/>
<circle cx="428.08" cy="232.66" r="1.35"/>
<circle cx="447.49" cy="222.93" r="1.35"/>
<circle cx="441.78" cy="218.39" r="1.35"/>
<circle cx="426.94" cy="224.88" r="1.35"/>
<circle cx="418.95" cy="219.69" r="1.35"/>
<circle cx="444.06" cy="224.23" r="1.35"/>
<circle cx="487.95" cy="237.20" r="1.35"/>
<circle cx="484.97" cy="223.58" r="1.35"/>
<circle cx="496.87" cy="220.98" r="1.35"/>
<circle cx="480.51" cy="238.50" r="1.35"/>
<circle cx="502.82" cy="222.28" r="1.35"/>
<circle cx="487.95" cy="224.88" r="1.35"/>
<circle cx="476.05" cy="224.23" r="1.35"/>
<circle cx="504.30" cy="226.17" r="1.35"/>
<circle cx="470.10" cy="227.47" r="1.35"/>
<circle cx="484.97" cy="230.07" r="1.35"/>
<circle cx="480.51" cy="227.47" r="1.35"/>
<circle cx="480.51" cy="220.34" r="1.35"/>
<circle cx="487.95" cy="218.39" r="1.35"/>
<circle cx="482.00" cy="212.55" r="1.35"/>
<circle cx="487.95" cy="226.82" r="1.35"/>
<circle cx="492.41" cy="219.04" r="1.35"/>
<circle cx="495.38" cy="220.34" r="1.35"/>
<circle cx="487.95" cy="219.69" r="1.35"/>
<circle cx="473.07" cy="228.77" r="1.35"/>
<circle cx="477.54" cy="222.93" r="1.35"/>
<circle cx="498.35" cy="220.34" r="1.35"/>
<circle cx="483.48" cy="220.98" r="1.35"/>
<circle cx="482.00" cy="228.77" r="1.35"/>
<circle cx="486.46" cy="229.42" r="1.35"/>
<circle cx="496.87" cy="220.34" r="1.35"/>
<circle cx="499.84" cy="225.53" r="1.35"/>
<circle cx="502.82" cy="229.42" r="1.35"/>
<circle cx="502.82" cy="223.58" r="1.35"/>
<circle cx="492.41" cy="226.82" r="1.35"/>
<circle cx="484.97" cy="231.36" r="1.35"/>
<circle cx="516.20" cy="227.47" r="1.35"/>
<circle cx="496.87" cy="230.72" r="1.35"/>
<circle cx="493.89" cy="232.66" r="1.35"/>
<circle cx="504.30" cy="222.93" r="1.35"/>
<circle cx="498.35" cy="218.39" r="1.35"/>
<circle cx="476.05" cy="224.88" r="1.35"/>
<circle cx="513.23" cy="219.69" r="1.35"/>
<circle cx="479.02" cy="224.23" r="1.35"/>
<circle cx="193.90" cy="280.13" r="1.35"/>
<circle cx="209.81" cy="276.99" r="1.35"/>
<circle cx="205.83" cy="266.78" r="1.35"/>
<circle cx="201.29" cy="280.13" r="1.35"/>
<circle cx="213.79" cy="261.28" r="1.35"/>
<circle cx="210.95" cy="265.21" r="1.35"/>
<circle cx="210.95" cy="266.78" r="1.35"/>
<circle cx="206.40" cy="270.70" r="1.35"/>
<circle cx="215.49" cy="273.85" r="1.35"/>
<circle cx="217.20" cy="267.56" r="1.35"/>
<circle cx="220.04" cy="269.13" r="1.35"/>
<circle cx="208.10" cy="270.70" r="1.35"/>
<circle cx="229.70" cy="249.50" r="1.35"/>
<circle cx="229.70" cy="251.86" r="1.35"/>
<circle cx="226.29" cy="258.92" r="1.35"/>
<circle cx="226.29" cy="260.50" r="1.35"/>
<circle cx="216.63" cy="266.78" r="1.35"/>
<circle cx="216.63" cy="261.28" r="1.35"/>
<circle cx="202.42" cy="270.70" r="1.35"/>
<circle cx="183.10" cy="277.77" r="1.35"/>
<circle cx="224.02" cy="252.64" r="1.35"/>
<circle cx="214.92" cy="262.85" r="1.35"/>
<circle cx="199.58" cy="265.21" r="1.35"/>
<circle cx="192.19" cy="272.28" r="1.35"/>
<circle cx="210.38" cy="259.71" r="1.35"/>
<circle cx="204.13" cy="267.56" r="1.35"/>
<circle cx="204.70" cy="264.42" r="1.35"/>
<circle cx="205.83" cy="265.21" r="1.35"/>
<circle cx="199.58" cy="265.21" r="1.35"/>
<circle cx="186.51" cy="281.70" r="1.35"/>
<circle cx="199.01" cy="265.21" r="1.35"/>
<circle cx="189.92" cy="280.91" r="1.35"/>
<circle cx="206.97" cy="270.70" r="1.35"/>
<circle cx="222.88" cy="257.35" r="1.35"/>
<circle cx="214.92" cy="261.28" r="1.35"/>
<circle cx="207.54" cy="271.49" r="1.35"/>
<circle cx="196.74" cy="276.99" r="1.35"/>
<circle cx="213.22" cy="259.71" r="1.35"/>
<circle cx="286.90" cy="280.13" r="1.35"/>
<circle cx="286.90" cy="276.99" r="1.35"/>
<circle cx="286.90" cy="266.78" r="1.35"/>
<circle cx="286.90" cy="280.13" r="1.35"/>
<circle cx="286.90" cy="261.28" r="1.35"/>
<circle cx="286.90" cy="265.21" r="1.35"/>
<circle cx="286.90" cy="266.78" r="1.35"/>
<circle cx="286.90" cy="270.70" r="1.35"/>
<circle cx="286.90" cy="273.85" r="1.35"/>
<circle cx="286.90" cy="267.56" r="1.35"/>
<circle cx="286.90" cy="269.13" r="1.35"/>
<circle cx="240.90" cy="270.70" r="1.35"/>
<circle cx="268.50" cy="249.50" r="1.35"/>
<circle cx="259.30" cy="251.86" r="1.35"/>
<circle cx="286.90" cy="258.92" r="1.35"/>
<circle cx="277.70" cy="260.50" r="1.35"/>
<circle cx="286.90" cy="266.78" r="1.35"/>
<circle cx="286.90" cy="261.28" r="1.35"/>
<circle cx="286.90" cy="270.70" r="1.35"/>
<circle cx="277.70" cy="277.77" r="1.35"/>
<circle cx="277.70" cy="252.64" r="1.35"/>
<circle cx="286.90" cy="262.85" r="1.35"/>
<circle cx="259.30" cy="265.21" r="1.35"/>
<circle cx="259.30" cy="272.28" r="1.35"/>
<circle cx="286.90" cy="259.71" r="1.35"/>
<circle cx="286.90" cy="267.56" r="1.35"/>
<circle cx="286.90" cy="264.42" r="1.35"/>
<circle cx="286.90" cy="265.21" r="1.35"/>
<circle cx="286.90" cy="265.21" r="1.35"/>
<circle cx="286.90" cy="281.70" r="1.35"/>
<circle cx="286.90" cy="265.21" r="1.35"/>
<circle cx="268.50" cy="280.91" r="1.35"/>
<circle cx="286.90" cy="270.70" r="1.35"/>
<circle cx="286.90" cy="257.35" r="1.35"/>
<circle cx="268.50" cy="261.28" r="1.35"/>
<circle cx="268.50" cy="271.49" r="1.35"/>
<circle cx="268.50" cy="276.99" r="1.35"/>
<circle cx="268.50" cy="259.71" r="1.35"/>
<circle cx="299.20" cy="280.13" r="1.35"/>
<circle cx="310.00" cy="276.99" r="1.35"/>
<circle cx="305.09" cy="266.78" r="1.35"/>
<circle cx="305.09" cy="280.13" r="1.35"/>
<circle cx="321.78" cy="261.28" r="1.35"/>
<circle cx="311.96" cy="265.21" r="1.35"/>
<circle cx="313.93" cy="266.78" r="1.35"/>
<circle cx="318.84" cy="270.70" r="1.35"/>
<circle cx="309.02" cy="273.85" r="1.35"/>
<circle cx="309.02" cy="267.56" r="1.35"/>
<circle cx="316.87" cy="269.13" r="1.35"/>
<circle cx="299.20" cy="270.70" r="1.35"/>
<circle cx="324.73" cy="249.50" r="1.35"/>
<circle cx="342.40" cy="251.86" r="1.35"/>
<circle cx="336.51" cy="258.92" r="1.35"/>
<circle cx="320.80" cy="260.50" r="1.35"/>
<circle cx="328.65" cy="266.78" r="1.35"/>
<circle cx="315.89" cy="261.28" r="1.35"/>
<circle cx="311.96" cy="270.70" r="1.35"/>
<circle cx="300.18" cy="277.77" r="1.35"/>
<circle cx="329.64" cy="252.64" r="1.35"/>
<circle cx="320.80" cy="262.85" r="1.35"/>
<circle cx="312.95" cy="265.21" r="1.35"/>
<circle cx="307.05" cy="272.28" r="1.35"/>
<circle cx="325.71" cy="259.71" r="1.35"/>
<circle cx="309.02" cy="267.56" r="1.35"/>
<circle cx="305.09" cy="264.42" r="1.35"/>
<circle cx="316.87" cy="265.21" r="1.35"/>
<circle cx="305.09" cy="265.21" r="1.35"/>
<circle cx="310.98" cy="281.70" r="1.35"/>
<circle cx="317.85" cy="265.21" r="1.35"/>
<circle cx="308.04" cy="280.91" r="1.35"/>
<circle cx="299.20" cy="270.70" r="1.35"/>
<circle cx="333.56" cy="257.35" r="1.35"/>
<circle cx="315.89" cy="261.28" r="1.35"/>
<circle cx="301.16" cy="271.49" r="1.35"/>
<circle cx="309.02" cy="276.99" r="1.35"/>
<circle cx="317.85" cy="259.71" r="1.35"/>
<circle cx="361.47" cy="280.13" r="1.35"/>
<circle cx="382.15" cy="276.99" r="1.35"/>
<circle cx="386.09" cy="266.78" r="1.35"/>
<circle cx="359.50" cy="280.13" r="1.35"/>
<circle cx="384.12" cy="261.28" r="1.35"/>
<circle cx="380.19" cy="265.21" r="1.35"/>
<circle cx="381.17" cy="266.78" r="1.35"/>
<circle cx="378.21" cy="270.70" r="1.35"/>
<circle cx="376.25" cy="273.85" r="1.35"/>
<circle cx="372.31" cy="267.56" r="1.35"/>
<circle cx="376.25" cy="269.13" r="1.35"/>
<circle cx="387.08" cy="270.70" r="1.35"/>
<circle cx="390.03" cy="249.50" r="1.35"/>
<circle cx="398.90" cy="251.86" r="1.35"/>
<circle cx="377.23" cy="258.92" r="1.35"/>
<circle cx="389.05" cy="260.50" r="1.35"/>
<circle cx="387.08" cy="266.78" r="1.35"/>
<circle cx="388.06" cy="261.28" r="1.35"/>
<circle cx="374.27" cy="270.70" r="1.35"/>
<circle cx="383.14" cy="277.77" r="1.35"/>
<circle cx="387.08" cy="252.64" r="1.35"/>
<circle cx="386.09" cy="262.85" r="1.35"/>
<circle cx="374.27" cy="265.21" r="1.35"/>
<circle cx="373.29" cy="272.28" r="1.35"/>
<circle cx="387.08" cy="259.71" r="1.35"/>
<circle cx="379.20" cy="267.56" r="1.35"/>
<circle cx="373.29" cy="264.42" r="1.35"/>
<circle cx="382.15" cy="265.21" r="1.35"/>
<circle cx="377.23" cy="265.21" r="1.35"/>
<circle cx="370.33" cy="281.70" r="1.35"/>
<circle cx="376.25" cy="265.21" r="1.35"/>
<circle cx="371.32" cy="280.91" r="1.35"/>
<circle cx="368.37" cy="270.70" r="1.35"/>
<circle cx="383.14" cy="257.35" r="1.35"/>
<circle cx="390.03" cy="261.28" r="1.35"/>
<circle cx="380.19" cy="271.49" r="1.35"/>
<circle cx="388.06" cy="276.99" r="1.35"/>
<circle cx="381.17" cy="259.71" r="1.35"/>
<circle cx="487.95" cy="280.13" r="1.35"/>
<circle cx="484.97" cy="276.99" r="1.35"/>
<circle cx="496.87" cy="266.78" r="1.35"/>
<circle cx="480.51" cy="280.13" r="1.35"/>
<circle cx="502.82" cy="261.28" r="1.35"/>
<circle cx="487.95" cy="265.21" r="1.35"/>
<circle cx="476.05" cy="266.78" r="1.35"/>
<circle cx="504.30" cy="270.70" r="1.35"/>
<circle cx="470.10" cy="273.85" r="1.35"/>
<circle cx="484.97" cy="267.56" r="1.35"/>
<circle cx="480.51" cy="269.13" r="1.35"/>
<circle cx="480.51" cy="270.70" r="1.35"/>
<circle cx="487.95" cy="249.50" r="1.35"/>
<circle cx="482.00" cy="251.86" r="1.35"/>
<circle cx="487.95" cy="258.92" r="1.35"/>
<circle cx="492.41" cy="260.50" r="1.35"/>
<circle cx="495.38" cy="266.78" r="1.35"/>
<circle cx="487.95" cy="261.28" r="1.35"/>
<circle cx="473.07" cy="270.70" r="1.35"/>
<circle cx="477.54" cy="277.77" r="1.35"/>
<circle cx="498.35" cy="252.64" r="1.35"/>
<circle cx="483.48" cy="262.85" r="1.35"/>
<circle cx="482.00" cy="265.21" r="1.35"/>
<circle cx="486.46" cy="272.28" r="1.35"/>
<circle cx="496.87" cy="259.71" r="1.35"/>
<circle cx="499.84" cy="267.56" r="1.35"/>
<circle cx="502.82" cy="264.42" r="1.35"/>
<circle cx="502.82" cy="265.21" r="1.35"/>
<circle cx="492.41" cy="265.21" r="1.35"/>
<circle cx="484.97" cy="281.70" r="1.35"/>
<circle cx="516.20" cy="265.21" r="1.35"/>
<circle cx="496.87" cy="280.91" r="1.35"/>
<circle cx="493.89" cy="270.70" r="1.35"/>
<circle cx="504.30" cy="257.35" r="1.35"/>
<circle cx="498.35" cy="261.28" r="1.35"/>
<circle cx="476.05" cy="271.49" r="1.35"/>
<circle cx="513.23" cy="276.99" r="1.35"/>
<circle cx="479.02" cy="259.71" r="1.35"/>
<circle cx="193.90" cy="308.51" r="1.35"/>
<circle cx="209.81" cy="310.54" r="1.35"/>
<circle cx="205.83" cy="302.41" r="1.35"/>
<circle cx="201.29" cy="313.59" r="1.35"/>
<circle cx="213.79" cy="298.35" r="1.35"/>
<circle cx="210.95" cy="308.51" r="1.35"/>
<circle cx="210.95" cy="316.64" r="1.35"/>
<circle cx="206.40" cy="297.33" r="1.35"/>
<circle cx="215.49" cy="320.70" r="1.35"/>
<circle cx="217.20" cy="310.54" r="1.35"/>
<circle cx="220.04" cy="313.59" r="1.35"/>
<circle cx="208.10" cy="313.59" r="1.35"/>
<circle cx="229.70" cy="308.51" r="1.35"/>
<circle cx="229.70" cy="312.57" r="1.35"/>
<circle cx="226.29" cy="308.51" r="1.35"/>
<circle cx="226.29" cy="305.46" r="1.35"/>
<circle cx="216.63" cy="303.43" r="1.35"/>
<circle cx="216.63" cy="308.51" r="1.35"/>
<circle cx="202.42" cy="318.67" r="1.35"/>
<circle cx="183.10" cy="315.62" r="1.35"/>
<circle cx="224.02" cy="301.39" r="1.35"/>
<circle cx="214.92" cy="311.55" r="1.35"/>
<circle cx="199.58" cy="312.57" r="1.35"/>
<circle cx="192.19" cy="309.52" r="1.35"/>
<circle cx="210.38" cy="302.41" r="1.35"/>
<circle cx="204.13" cy="300.38" r="1.35"/>
<circle cx="204.70" cy="298.35" r="1.35"/>
<circle cx="205.83" cy="298.35" r="1.35"/>
<circle cx="199.58" cy="305.46" r="1.35"/>
<circle cx="186.51" cy="310.54" r="1.35"/>
<circle cx="199.01" cy="289.20" r="1.35"/>
<circle cx="189.92" cy="302.41" r="1.35"/>
<circle cx="206.97" cy="304.44" r="1.35"/>
<circle cx="222.88" cy="297.33" r="1.35"/>
<circle cx="214.92" cy="301.39" r="1.35"/>
<circle cx="207.54" cy="316.64" r="1.35"/>
<circle cx="196.74" cy="291.23" r="1.35"/>
<circle cx="213.22" cy="314.60" r="1.35"/>
<circle cx="286.90" cy="308.51" r="1.35"/>
<circle cx="286.90" cy="310.54" r="1.35"/>
<circle cx="286.90" cy="302.41" r="1.35"/>
<circle cx="286.90" cy="313.59" r="1.35"/>
<circle cx="286.90" cy="298.35" r="1.35"/>
<circle cx="286.90" cy="308.51" r="1.35"/>
<circle cx="286.90" cy="316.64" r="1.35"/>
<circle cx="286.90" cy="297.33" r="1.35"/>
<circle cx="286.90" cy="320.70" r="1.35"/>
<circle cx="286.90" cy="310.54" r="1.35"/>
<circle cx="286.90" cy="313.59" r="1.35"/>
<circle cx="240.90" cy="313.59" r="1.35"/>
<circle cx="268.50" cy="308.51" r="1.35"/>
<circle cx="259.30" cy="312.57" r="1.35"/>
<circle cx="286.90" cy="308.51" r="1.35"/>
<circle cx="277.70" cy="305.46" r="1.35"/>
<circle cx="286.90" cy="303.43" r="1.35"/>
<circle cx="286.90" cy="308.51" r="1.35"/>
<circle cx="286.90" cy="318.67" r="1.35"/>
<circle cx="277.70" cy="315.62" r="1.35"/>
<circle cx="277.70" cy="301.39" r="1.35"/>
<circle cx="286.90" cy="311.55" r="1.35"/>
<circle cx="259.30" cy="312.57" r="1.35"/>
<circle cx="259.30" cy="309.52" r="1.35"/>
<circle cx="286.90" cy="302.41" r="1.35"/>
<circle cx="286.90" cy="300.38" r="1.35"/>
<circle cx="286.90" cy="298.35" r="1.35"/>
<circle cx="286.90" cy="298.35" r="1.35"/>
<circle cx="286.90" cy="305.46" r="1.35"/>
<circle cx="286.90" cy="310.54" r="1.35"/>
<circle cx="286.90" cy="289.20" r="1.35"/>
<circle cx="268.50" cy="302.41" r="1.35"/>
<circle cx="286.90" cy="304.44" r="1.35"/>
<circle cx="286.90" cy="297.33" r="1.35"/>
<circle cx="268.50" cy="301.39" r="1.35"/>
<circle cx="268.50" cy="316.64" r="1.35"/>
<circle cx="268.50" cy="291.23" r="1.35"/>
<circle cx="268.50" cy="314.60" r="1.35"/>
<circle cx="299.20" cy="308.51" r="1.35"/>
<circle cx="310.00" cy="310.54" r="1.35"/>
<circle cx="305.09" cy="302.41" r="1.35"/>
<circle cx="305.09" cy="313.59" r="1.35"/>
<circle cx="321.78" cy="298.35" r="1.35"/>
<circle cx="311.96" cy="308.51" r="1.35"/>
<circle cx="313.93" cy="316.64" r="1.35"/>
<circle cx="318.84" cy="297.33" r="1.35"/>
<circle cx="309.02" cy="320.70" r="1.35"/>
<circle cx="309.02" cy="310.54" r="1.35"/>
<circle cx="316.87" cy="313.59" r="1.35"/>
<circle cx="299.20" cy="313.59" r="1.35"/>
<circle cx="324.73" cy="308.51" r="1.35"/>
<circle cx="342.40" cy="312.57" r="1.35"/>
<circle cx="336.51" cy="308.51" r="1.35"/>
<circle cx="320.80" cy="305.46" r="1.35"/>
<circle cx="328.65" cy="303.43" r="1.35"/>
<circle cx="315.89" cy="308.51" r="1.35"/>
<circle cx="311.96" cy="318.67" r="1.35"/>
<circle cx="300.18" cy="315.62" r="1.35"/>
<circle cx="329.64" cy="301.39" r="1.35"/>
<circle cx="320.80" cy="311.55" r="1.35"/>
<circle cx="312.95" cy="312.57" r="1.35"/>
<circle cx="307.05" cy="309.52" r="1.35"/>
<circle cx="325.71" cy="302.41" r="1.35"/>
<circle cx="309.02" cy="300.38" r="1.35"/>
<circle cx="305.09" cy="298.35" r="1.35"/>
<circle cx="316.87" cy="298.35" r="1.35"/>
<circle cx="305.09" cy="305.46" r="1.35"/>
<circle cx="310.98" cy="310.54" r="1.35"/>
<circle cx="317.85" cy="289.20" r="1.35"/>
<circle cx="308.04" cy="302.41" r="1.35"/>
<circle cx="299.20" cy="304.44" r="1.35"/>
<circle cx="333.56" cy="297.33" r="1.35"/>
<circle cx="315.89" cy="301.39" r="1.35"/>
<circle cx="301.16" cy="316.64" r="1.35"/>
<circle cx="309.02" cy="291.23" r="1.35"/>
<circle cx="317.85" cy="314.60" r="1.35"/>
<circle cx="361.47" cy="308.51" r="1.35"/>
<circle cx="382.15" cy="310.54" r="1.35"/>
<circle cx="386.09" cy="302.41" r="1.35"/>
<circle cx="359.50" cy="313.59" r="1.35"/>
<circle cx="384.12" cy="298.35" r="1.35"/>
<circle cx="380.19" cy="308.51" r="1.35"/>
<circle cx="381.17" cy="316.64" r="1.35"/>
<circle cx="378.21" cy="297.33" r="1.35"/>
<circle cx="376.25" cy="320.70" r="1.35"/>
<circle cx="372.31" cy="310.54" r="1.35"/>
<circle cx="376.25" cy="313.59" r="1.35"/>
<circle cx="387.08" cy="313.59" r="1.35"/>
<circle cx="390.03" cy="308.51" r="1.35"/>
<circle cx="398.90" cy="312.57" r="1.35"/>
<circle cx="377.23" cy="308.51" r="1.35"/>
<circle cx="389.05" cy="305.46" r="1.35"/>
<circle cx="387.08" cy="303.43" r="1.35"/>
<circle cx="388.06" cy="308.51" r="1.35"/>
<circle cx="374.27" cy="318.67" r="1.35"/>
<circle cx="383.14" cy="315.62" r="1.35"/>
<circle cx="387.08" cy="301.39" r="1.35"/>
<circle cx="386.09" cy="311.55" r="1.35"/>
<circle cx="374.27" cy="312.57" r="1.35"/>
<circle cx="373.29" cy="309.52" r="1.35"/>
<circle cx="387.08" cy="302.41" r="1.35"/>
<circle cx="379.20" cy="300.38" r="1.35"/>
<circle cx="373.29" cy="298.35" r="1.35"/>
<circle cx="382.15" cy="298.35" r="1.35"/>
<circle cx="377.23" cy="305.46" r="1.35"/>
<circle cx="370.33" cy="310.54" r="1.35"/>
<circle cx="376.25" cy="289.20" r="1.35"/>
<circle cx="371.32" cy="302.41" r="1.35"/>
<circle cx="368.37" cy="304.44" r="1.35"/>
<circle cx="383.14" cy="297.33" r="1.35"/>
<circle cx="390.03" cy="301.39" r="1.35"/>
<circle cx="380.19" cy="316.64" r="1.35"/>
<circle cx="388.06" cy="291.23" r="1.35"/>
<circle cx="381.17" cy="314.60" r="1.35"/>
<circle cx="414.38" cy="308.51" r="1.35"/>
<circle cx="418.95" cy="310.54" r="1.35"/>
<circle cx="433.79" cy="302.41" r="1.35"/>
<circle cx="414.38" cy="313.59" r="1.35"/>
<circle cx="441.78" cy="298.35" r="1.35"/>
<circle cx="436.07" cy="308.51" r="1.35"/>
<circle cx="433.79" cy="316.64" r="1.35"/>
<circle cx="428.08" cy="297.33" r="1.35"/>
<circle cx="423.51" cy="320.70" r="1.35"/>
<circle cx="432.65" cy="310.54" r="1.35"/>
<circle cx="430.36" cy="313.59" r="1.35"/>
<circle cx="428.08" cy="313.59" r="1.35"/>
<circle cx="458.90" cy="308.51" r="1.35"/>
<circle cx="455.48" cy="312.57" r="1.35"/>
<circle cx="445.20" cy="308.51" r="1.35"/>
<circle cx="442.92" cy="305.46" r="1.35"/>
<circle cx="433.79" cy="303.43" r="1.35"/>
<circle cx="441.78" cy="308.51" r="1.35"/>
<circle cx="428.08" cy="318.67" r="1.35"/>
<circle cx="417.81" cy="315.62" r="1.35"/>
<circle cx="454.33" cy="301.39" r="1.35"/>
<circle cx="439.50" cy="311.55" r="1.35"/>
<circle cx="436.07" cy="312.57" r="1.35"/>
<circle cx="425.80" cy="309.52" r="1.35"/>
<circle cx="444.06" cy="302.41" r="1.35"/>
<circle cx="432.65" cy="300.38" r="1.35"/>
<circle cx="437.21" cy="298.35" r="1.35"/>
<circle cx="436.07" cy="298.35" r="1.35"/>
<circle cx="436.07" cy="305.46" r="1.35"/>
<circle cx="412.10" cy="310.54" r="1.35"/>
<circle cx="436.07" cy="289.20" r="1.35"/>
<circle cx="413.24" cy="302.41" r="1.35"/>
<circle cx="428.08" cy="304.44" r="1.35"/>
<circle cx="447.49" cy="297.33" r="1.35"/>
<circle cx="441.78" cy="301.39" r="1.35"/>
<circle cx="426.94" cy="316.64" r="1.35"/>
<circle cx="418.95" cy="291.23" r="1.35"/>
<circle cx="444.06" cy="314.60" r="1.35"/>
</g>
<g font-family="'Liberation Sans', sans-serif" fill="#111" stroke="#111" stroke-width="0.18">
<text x="194.85" y="108.95" font-size="8.8" font-weight="bold" stroke="none" textLength="22.5" lengthAdjust="spacingAndGlyphs">Quality</text>
<text x="253.50" y="148.85" font-size="8.8" font-weight="bold" stroke="none" textLength="20.2" lengthAdjust="spacingAndGlyphs">Clarity</text>
<text x="310.70" y="188.65" font-size="8.8" font-weight="bold" stroke="none" textLength="20.7" lengthAdjust="spacingAndGlyphs">Aroma</text>
<text x="369.80" y="229.00" font-size="8.8" font-weight="bold" stroke="none" textLength="16.2" lengthAdjust="spacingAndGlyphs">Body</text>
<text x="425.70" y="268.65" font-size="8.8" font-weight="bold" stroke="none" textLength="19.3" lengthAdjust="spacingAndGlyphs">Flavor</text>
<text x="477.90" y="309.05" font-size="8.8" font-weight="bold" stroke="none" textLength="28.6" lengthAdjust="spacingAndGlyphs">Oakiness</text>
<text x="171.20" y="117.40" font-size="8.2" text-anchor="end">9.95</text>
<text x="171.20" y="101.10" font-size="8.2" text-anchor="end">14.05</text>
<text x="171.20" y="156.00" font-size="8.2" text-anchor="end">0.625</text>
<text x="171.20" y="141.30" font-size="8.2" text-anchor="end">0.875</text>
<text x="171.20" y="196.20" font-size="8.2" text-anchor="end">4.4</text>
<text x="171.20" y="181.40" font-size="8.2" text-anchor="end">6.6</text>
<text x="171.20" y="233.60" font-size="8.2" text-anchor="end">3.6</text>
<text x="171.20" y="220.10" font-size="8.2" text-anchor="end">5.6</text>
<text x="171.20" y="275.15" font-size="8.2" text-anchor="end">3.925</text>
<text x="171.20" y="259.55" font-size="8.2" text-anchor="end">5.975</text>
<text x="171.20" y="315.40" font-size="8.2" text-anchor="end">3.675</text>
<text x="171.20" y="298.60" font-size="8.2" text-anchor="end">5.225</text>
<text transform="translate(197.70 334.10) rotate(-28)" font-size="8.2" text-anchor="end">9.95</text>
<text transform="translate(220.00 334.10) rotate(-28)" font-size="8.2" text-anchor="end">14.05</text>
<text transform="translate(255.00 334.10) rotate(-28)" font-size="8.2" text-anchor="end">0.625</text>
<text transform="translate(277.70 334.10) rotate(-28)" font-size="8.2" text-anchor="end">0.875</text>
<text transform="translate(311.80 334.10) rotate(-28)" font-size="8.2" text-anchor="end">4.4</text>
<text transform="translate(334.70 334.10) rotate(-28)" font-size="8.2" text-anchor="end">6.6</text>
<text transform="translate(369.05 334.10) rotate(-28)" font-size="8.2" text-anchor="end">3.6</text>
<text transform="translate(391.70 334.10) rotate(-28)" font-size="8.2" text-anchor="end">5.6</text>
<text transform="translate(426.60 334.10) rotate(-28)" font-size="8.2" text-anchor="end">3.925</text>
<text transform="translate(449.10 334.10) rotate(-28)" font-size="8.2" text-anchor="end">5.975</text>
<text transform="translate(483.80 334.10) rotate(-28)" font-size="8.2" text-anchor="end">3.675</text>
<text transform="translate(506.60 334.10) rotate(-28)" font-size="8.2" text-anchor="end">5.225</text>
</g>
</svg>
<figcaption>
<div class="t" style="left:54.60px;top:290.76px;font-size:9.6px;font-weight:bold;color:#1b75c9;letter-spacing:-0.011px;">Figure 12-12</div>
<div class="t" style="left:54.60px;top:302.26px;font-size:9.6px;letter-spacing:0.018px;">A Matrix of Scatter</div>
<div class="t" style="left:54.60px;top:313.96px;font-size:9.6px;letter-spacing:-0.022px;">Plots from Minitab for</div>
<div class="t" style="left:54.60px;top:325.56px;font-size:9.6px;letter-spacing:-0.056px;">the Wine Quality Data.</div>
</figcaption></figure>
<section>
<div class="t" style="left:188.40px;top:395.96px;font-size:9.6px;font-weight:bold;letter-spacing:0.001px;">Table 12-17</div>
<div class="t" style="left:246.20px;top:395.96px;font-size:9.6px;letter-spacing:0.011px;">Minitab All Possible Regressions Output for the Wine Quality Data</div>
<div class="rule" style="left:187px;top:410.1px;width:318.8px;"></div>
<div class="t" style="left:194.50px;top:417.14px;font-size:9.5px;font-weight:bold;letter-spacing:-0.013px;">Best Subsets Regression: Quality versus Clarity, Aroma, . . .</div>
<div class="t" style="left:194.50px;top:431.69px;font-size:9.45px;letter-spacing:-0.011px;">Response is Quality</div>
<div class="t tc" style="left:440.00px;top:463.51px;font-size:9.4px;">C</div>
<div class="t tc" style="left:440.00px;top:476.19px;font-size:9.4px;">l</div>
<div class="t tc" style="left:439.70px;top:488.87px;font-size:9.4px;">a</div>
<div class="t tc" style="left:440.30px;top:501.55px;font-size:9.4px;">r</div>
<div class="t tc" style="left:440.50px;top:514.23px;font-size:9.4px;">i</div>
<div class="t tc" style="left:441.20px;top:526.91px;font-size:9.4px;">t</div>
<div class="t tc" style="left:442.50px;top:539.59px;font-size:9.4px;">y</div>
<div class="t tc" style="left:452.60px;top:488.87px;font-size:9.4px;">A</div>
<div class="t tc" style="left:451.80px;top:501.55px;font-size:9.4px;">r</div>
<div class="t tc" style="left:453.00px;top:514.23px;font-size:9.4px;">o</div>
<div class="t tc" style="left:455.30px;top:526.91px;font-size:9.4px;">m</div>
<div class="t tc" style="left:454.00px;top:539.59px;font-size:9.4px;">a</div>
<div class="t tc" style="left:465.10px;top:501.55px;font-size:9.4px;">B</div>
<div class="t tc" style="left:464.70px;top:514.23px;font-size:9.4px;">o</div>
<div class="t tc" style="left:465.10px;top:526.91px;font-size:9.4px;">d</div>
<div class="t tc" style="left:465.80px;top:539.59px;font-size:9.4px;">y</div>
<div class="t tc" style="left:476.00px;top:476.19px;font-size:9.4px;">F</div>
<div class="t tc" style="left:475.40px;top:488.87px;font-size:9.4px;">l</div>
<div class="t tc" style="left:475.70px;top:501.55px;font-size:9.4px;">a</div>
<div class="t tc" style="left:476.60px;top:514.23px;font-size:9.4px;">v</div>
<div class="t tc" style="left:477.30px;top:526.91px;font-size:9.4px;">o</div>
<div class="t tc" style="left:476.80px;top:539.59px;font-size:9.4px;">r</div>
<div class="t tc" style="left:486.60px;top:450.83px;font-size:9.4px;">O</div>
<div class="t tc" style="left:487.90px;top:463.51px;font-size:9.4px;">a</div>
<div class="t tc" style="left:487.70px;top:476.19px;font-size:9.4px;">k</div>
<div class="t tc" style="left:488.30px;top:488.87px;font-size:9.4px;">i</div>
<div class="t tc" style="left:487.60px;top:501.55px;font-size:9.4px;">n</div>
<div class="t tc" style="left:487.80px;top:514.23px;font-size:9.4px;">e</div>
<div class="t tc" style="left:488.40px;top:526.91px;font-size:9.4px;">s</div>
<div class="t tc" style="left:488.40px;top:539.59px;font-size:9.4px;">s</div>
<div class="t tc" style="left:202.90px;top:539.59px;font-size:9.4px;">Vars</div>
<div class="t tc" style="left:246.60px;top:539.59px;font-size:9.4px;">R-Sq</div>
<div class="t tc" style="left:300.20px;top:539.59px;font-size:9.4px;">R-Sq (adj)</div>
<div class="t tc" style="left:354.80px;top:539.59px;font-size:9.4px;">C–p</div>
<div class="t tc" style="left:400.00px;top:539.59px;font-size:9.4px;">S</div>
<div class="t tc" style="left:203.40px;top:552.33px;font-size:9.4px;">1</div>
<div class="t tr" style="left:254.70px;top:552.33px;font-size:9.4px;">62.4</div>
<div class="t tr" style="left:308.60px;top:552.33px;font-size:9.4px;">61.4</div>
<div class="t tr" style="left:362.30px;top:552.33px;font-size:9.4px;">9.0</div>
<div class="t tc" style="left:399.60px;top:552.33px;font-size:9.4px;">1.2712</div>
<div class="t tc" style="left:475.00px;top:552.33px;font-size:9.4px;">X</div>
<div class="t tc" style="left:203.40px;top:565.04px;font-size:9.4px;">1</div>
<div class="t tr" style="left:254.70px;top:565.04px;font-size:9.4px;">50.0</div>
<div class="t tr" style="left:308.60px;top:565.04px;font-size:9.4px;">48.6</div>
<div class="t tr" style="left:362.30px;top:565.04px;font-size:9.4px;">23.2</div>
<div class="t tc" style="left:399.60px;top:565.04px;font-size:9.4px;">1.4658</div>
<div class="t tc" style="left:452.20px;top:565.04px;font-size:9.4px;">X</div>
<div class="t tc" style="left:203.40px;top:577.75px;font-size:9.4px;">1</div>
<div class="t tr" style="left:254.70px;top:577.75px;font-size:9.4px;">30.1</div>
<div class="t tr" style="left:308.60px;top:577.75px;font-size:9.4px;">28.2</div>
<div class="t tr" style="left:362.30px;top:577.75px;font-size:9.4px;">46.0</div>
<div class="t tc" style="left:399.60px;top:577.75px;font-size:9.4px;">1.7335</div>
<div class="t tc" style="left:463.40px;top:577.75px;font-size:9.4px;">X</div>
<div class="t tc" style="left:203.40px;top:590.46px;font-size:9.4px;">2</div>
<div class="t tr" style="left:254.70px;top:590.46px;font-size:9.4px;">66.1</div>
<div class="t tr" style="left:308.60px;top:590.46px;font-size:9.4px;">64.2</div>
<div class="t tr" style="left:362.30px;top:590.46px;font-size:9.4px;">6.8</div>
<div class="t tc" style="left:399.60px;top:590.46px;font-size:9.4px;">1.2242</div>
<div class="t tc" style="left:475.00px;top:590.46px;font-size:9.4px;">X</div>
<div class="t tc" style="left:486.80px;top:590.46px;font-size:9.4px;">X</div>
<div class="t tc" style="left:203.40px;top:603.17px;font-size:9.4px;">2</div>
<div class="t tr" style="left:254.70px;top:603.17px;font-size:9.4px;">65.9</div>
<div class="t tr" style="left:308.60px;top:603.17px;font-size:9.4px;">63.9</div>
<div class="t tr" style="left:362.30px;top:603.17px;font-size:9.4px;">7.1</div>
<div class="t tc" style="left:399.60px;top:603.17px;font-size:9.4px;">1.2288</div>
<div class="t tc" style="left:452.20px;top:603.17px;font-size:9.4px;">X</div>
<div class="t tc" style="left:475.00px;top:603.17px;font-size:9.4px;">X</div>
<div class="t tc" style="left:203.40px;top:615.88px;font-size:9.4px;">2</div>
<div class="t tr" style="left:254.70px;top:615.88px;font-size:9.4px;">63.3</div>
<div class="t tr" style="left:308.60px;top:615.88px;font-size:9.4px;">61.2</div>
<div class="t tr" style="left:362.30px;top:615.88px;font-size:9.4px;">10.0</div>
<div class="t tc" style="left:399.60px;top:615.88px;font-size:9.4px;">1.2733</div>
<div class="t tc" style="left:439.80px;top:615.88px;font-size:9.4px;">X</div>
<div class="t tc" style="left:475.00px;top:615.88px;font-size:9.4px;">X</div>
<div class="t tc" style="left:203.40px;top:628.59px;font-size:9.4px;">3</div>
<div class="t tr" style="left:254.70px;top:628.59px;font-size:9.4px;">70.4</div>
<div class="t tr" style="left:308.60px;top:628.59px;font-size:9.4px;">67.8</div>
<div class="t tr" style="left:362.30px;top:628.59px;font-size:9.4px;">3.9</div>
<div class="t tc" style="left:399.60px;top:628.59px;font-size:9.4px;">1.1613</div>
<div class="t tc" style="left:452.20px;top:628.59px;font-size:9.4px;">X</div>
<div class="t tc" style="left:475.00px;top:628.59px;font-size:9.4px;">X</div>
<div class="t tc" style="left:486.80px;top:628.59px;font-size:9.4px;">X</div>
<div class="t tc" style="left:203.40px;top:641.30px;font-size:9.4px;">3</div>
<div class="t tr" style="left:254.70px;top:641.30px;font-size:9.4px;">68.0</div>
<div class="t tr" style="left:308.60px;top:641.30px;font-size:9.4px;">65.2</div>
<div class="t tr" style="left:362.30px;top:641.30px;font-size:9.4px;">6.6</div>
<div class="t tc" style="left:399.60px;top:641.30px;font-size:9.4px;">1.2068</div>
<div class="t tc" style="left:439.80px;top:641.30px;font-size:9.4px;">X</div>
<div class="t tc" style="left:475.00px;top:641.30px;font-size:9.4px;">X</div>
<div class="t tc" style="left:486.80px;top:641.30px;font-size:9.4px;">X</div>
<div class="t tc" style="left:203.40px;top:654.01px;font-size:9.4px;">3</div>
<div class="t tr" style="left:254.70px;top:654.01px;font-size:9.4px;">66.5</div>
<div class="t tr" style="left:308.60px;top:654.01px;font-size:9.4px;">63.5</div>
<div class="t tr" style="left:362.30px;top:654.01px;font-size:9.4px;">8.4</div>
<div class="t tc" style="left:399.60px;top:654.01px;font-size:9.4px;">1.2357</div>
<div class="t tc" style="left:463.40px;top:654.01px;font-size:9.4px;">X</div>
<div class="t tc" style="left:475.00px;top:654.01px;font-size:9.4px;">X</div>
<div class="t tc" style="left:486.80px;top:654.01px;font-size:9.4px;">X</div>
<div class="t tc" style="left:203.40px;top:666.72px;font-size:9.4px;">4</div>
<div class="t tr" style="left:254.70px;top:666.72px;font-size:9.4px;">71.5</div>
<div class="t tr" style="left:308.60px;top:666.72px;font-size:9.4px;">68.0</div>
<div class="t tr" style="left:362.30px;top:666.72px;font-size:9.4px;">4.7</div>
<div class="t tc" style="left:399.60px;top:666.72px;font-size:9.4px;">1.1568</div>
<div class="t tc" style="left:439.80px;top:666.72px;font-size:9.4px;">X</div>
<div class="t tc" style="left:452.20px;top:666.72px;font-size:9.4px;">X</div>
<div class="t tc" style="left:475.00px;top:666.72px;font-size:9.4px;">X</div>
<div class="t tc" style="left:486.80px;top:666.72px;font-size:9.4px;">X</div>
<div class="t tc" style="left:203.40px;top:679.43px;font-size:9.4px;">4</div>
<div class="t tr" style="left:254.70px;top:679.43px;font-size:9.4px;">70.5</div>
<div class="t tr" style="left:308.60px;top:679.43px;font-size:9.4px;">66.9</div>
<div class="t tr" style="left:362.30px;top:679.43px;font-size:9.4px;">5.8</div>
<div class="t tc" style="left:399.60px;top:679.43px;font-size:9.4px;">1.1769</div>
<div class="t tc" style="left:452.20px;top:679.43px;font-size:9.4px;">X</div>
<div class="t tc" style="left:463.40px;top:679.43px;font-size:9.4px;">X</div>
<div class="t tc" style="left:475.00px;top:679.43px;font-size:9.4px;">X</div>
<div class="t tc" style="left:486.80px;top:679.43px;font-size:9.4px;">X</div>
<div class="t tc" style="left:203.40px;top:692.14px;font-size:9.4px;">4</div>
<div class="t tr" style="left:254.70px;top:692.14px;font-size:9.4px;">69.3</div>
<div class="t tr" style="left:308.60px;top:692.14px;font-size:9.4px;">65.6</div>
<div class="t tr" style="left:362.30px;top:692.14px;font-size:9.4px;">7.1</div>
<div class="t tc" style="left:399.60px;top:692.14px;font-size:9.4px;">1.1996</div>
<div class="t tc" style="left:439.80px;top:692.14px;font-size:9.4px;">X</div>
<div class="t tc" style="left:463.40px;top:692.14px;font-size:9.4px;">X</div>
<div class="t tc" style="left:475.00px;top:692.14px;font-size:9.4px;">X</div>
<div class="t tc" style="left:486.80px;top:692.14px;font-size:9.4px;">X</div>
<div class="t tc" style="left:203.40px;top:704.85px;font-size:9.4px;">5</div>
<div class="t tr" style="left:254.70px;top:704.85px;font-size:9.4px;">72.1</div>
<div class="t tr" style="left:308.60px;top:704.85px;font-size:9.4px;">67.7</div>
<div class="t tr" style="left:362.30px;top:704.85px;font-size:9.4px;">6.0</div>
<div class="t tc" style="left:399.60px;top:704.85px;font-size:9.4px;">1.1625</div>
<div class="t tc" style="left:439.80px;top:704.85px;font-size:9.4px;">X</div>
<div class="t tc" style="left:452.20px;top:704.85px;font-size:9.4px;">X</div>
<div class="t tc" style="left:463.40px;top:704.85px;font-size:9.4px;">X</div>
<div class="t tc" style="left:475.00px;top:704.85px;font-size:9.4px;">X</div>
<div class="t tc" style="left:486.80px;top:704.85px;font-size:9.4px;">X</div>
<div class="rule" style="left:187px;top:717.8px;width:318.8px;"></div>
</section>
</body></html>
